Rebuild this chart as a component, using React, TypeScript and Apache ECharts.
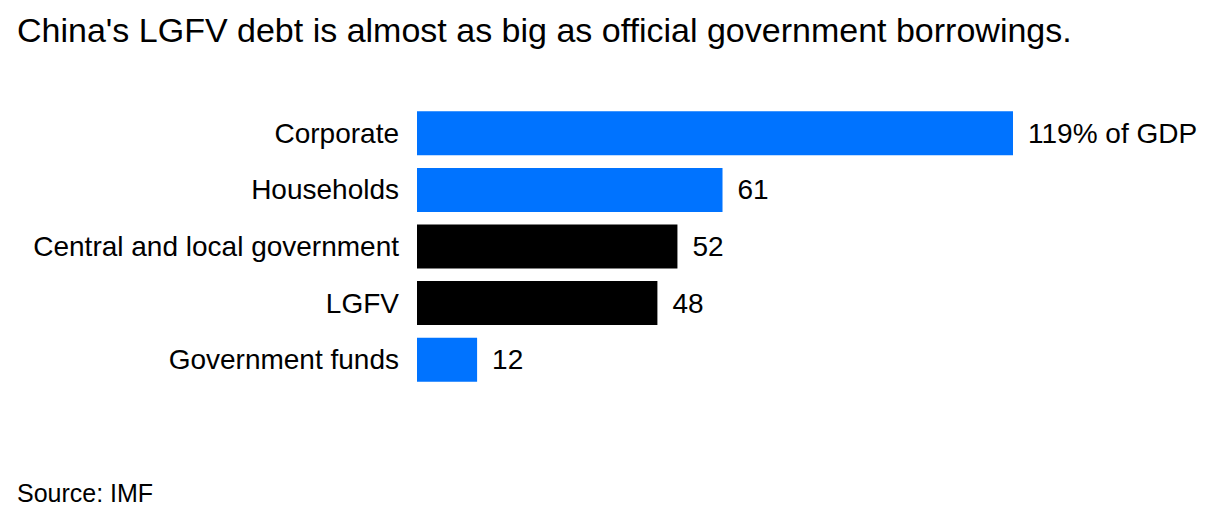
import React, { useEffect, useRef } from "react";
import * as echarts from "echarts";

const categories = ["Corporate", "Households", "Central and local government", "LGFV", "Government funds"];
const values = [119, 61, 52, 48, 12];
const barColors = ["#0073ff", "#0073ff", "#000000", "#000000", "#0073ff"];
const valueLabels = ["119% of GDP", "61", "52", "48", "12"];

const FONT = "'Liberation Sans', Arial, Helvetica, sans-serif";

export default function App() {
  const ref = useRef<HTMLDivElement>(null);
  useEffect(() => {
    document.body.style.margin = "0";
    const chart = echarts.init(ref.current!, null, { renderer: "svg" });
    chart.setOption({
      animation: false,
      backgroundColor: "#ffffff",
      textStyle: { fontFamily: FONT },
      title: [
        {
          text: "China's LGFV debt is almost as big as official government borrowings.",
          left: 12,
          top: 8,
          textStyle: { fontFamily: FONT, fontSize: 34, fontWeight: "normal", color: "#000" },
        },
        {
          text: "Source: IMF",
          left: 12,
          top: 475,
          textStyle: { fontFamily: FONT, fontSize: 25, fontWeight: "normal", color: "#000" },
        },
      ],
      grid: { left: 417, right: 205, top: 105, height: 283, containLabel: false },
      xAxis: {
        type: "value",
        min: 0,
        max: 119,
        show: false,
      },
      yAxis: {
        type: "category",
        data: categories,
        inverse: true,
        axisLine: { show: false },
        axisTick: { show: false },
        splitLine: { show: false },
        axisLabel: { color: "#000", fontSize: 28, fontFamily: FONT, margin: 18 },
      },
      series: [
        {
          type: "bar",
          barWidth: 44,
          data: values.map((v, i) => ({
            value: v,
            itemStyle: { color: barColors[i] },
            label: { formatter: valueLabels[i] },
          })),
          label: {
            show: true,
            position: "right",
            distance: 15,
            color: "#000",
            fontSize: 28,
            fontFamily: FONT,
          },
        },
      ],
    });
    return () => chart.dispose();
  }, []);
  return <div ref={ref} style={{ width: 1218, height: 510 }} />;
}
